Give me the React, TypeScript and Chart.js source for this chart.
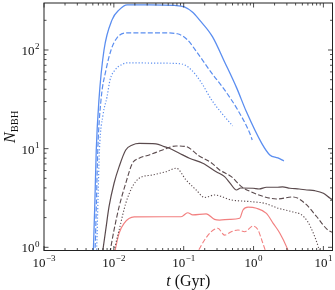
import React, { useEffect, useRef } from "react";
import { Chart, registerables } from "chart.js";
Chart.register(...registerables);

// ---- data (t in Gyr, N_BBH) ----
const blueSolidT = [0.00499, 0.00511, 0.00536, 0.0056, 0.00612, 0.00723, 0.00942, 0.0119, 0.0155, 0.0321, 0.0734, 0.102, 0.133, 0.168, 0.259, 0.385, 0.573, 0.791, 1.31, 1.71, 2.23, 2.72];
const blueSolidN = [0.71, 1.0, 3.02, 9.7, 31.2, 100, 202, 255, 287, 287, 283, 274, 243, 202, 136, 75.7, 41.3, 23.6, 11.3, 8.63, 8.05, 7.5];

const blueDashedT = [0.00522, 0.0054, 0.00564, 0.00589, 0.00655, 0.00772, 0.00912, 0.0111, 0.0155, 0.0527, 0.0811, 0.113, 0.157, 0.2505, 0.385, 0.593, 0.881, 0.957];
const blueDashedN = [0.71, 1.0, 3.02, 9.7, 31.2, 62.8, 100, 133, 149, 149, 146, 127, 93.4, 58.6, 39.4, 24.7, 14.4, 12.25];

const blueDottedT = [0.00551, 0.00568, 0.00593, 0.00622, 0.007, 0.00798, 0.00882, 0.0104, 0.0127, 0.0155, 0.0527, 0.0927, 0.129, 0.18, 0.2505, 0.348, 0.502];
const blueDottedN = [0.71, 1.0, 3.02, 9.7, 22, 33.4, 49.8, 62.8, 70.6, 74.0, 73.5, 72.3, 62.8, 46.4, 31.2, 23.0, 17.0];

const graySolidT = [0.00665, 0.00765, 0.00853, 0.01007, 0.0119, 0.0148, 0.01845, 0.023, 0.0401, 0.0527, 0.0622, 0.0867, 0.121, 0.1875, 0.292, 0.385, 0.47, 0.568, 0.655, 0.984, 1.2, 1.53, 2.13, 2.6, 3.32, 4.5, 5.77, 7.5, 10.0, 12.5, 13.8];
const graySolidN = [0.743, 1.5, 2.58, 4.46, 6.57, 9.7, 10.9, 11.3, 11.2, 10.5, 10.1, 8.98, 7.99, 7.11, 5.84, 5.2, 4.385, 3.81, 3.99, 3.97, 3.9, 4.06, 4.06, 4.1, 3.97, 3.9, 3.81, 3.75, 3.53, 3.14, 3.02];

const grayDashedT = [0.00839, 0.01007, 0.0119, 0.0148, 0.01845, 0.023, 0.0321, 0.0499, 0.0777, 0.108, 0.1627, 0.2505, 0.3265, 0.481, 0.67, 0.933, 1.45, 2.13, 3.7, 5.45, 8.04, 11.2, 13.8];
const grayDashedN = [0.743, 1.5, 2.58, 4.46, 7.11, 7.99, 8.63, 9.7, 10.65, 10.5, 8.53, 7.16, 6.08, 5.2, 4.12, 3.64, 3.24, 3.09, 3.24, 2.79, 2.04, 1.53, 1.4];

const grayDottedT = [0.00935, 0.0119, 0.0148, 0.01845, 0.023, 0.0358, 0.0558, 0.0785, 0.108, 0.151, 0.199, 0.2766, 0.481, 0.933, 1.45, 2.25, 3.51, 4.89, 5.93, 7.18, 8.48, 9.12];
const grayDottedN = [0.743, 1.5, 2.79, 4.12, 5.01, 5.41, 5.84, 6.33, 4.82, 3.81, 3.2, 3.39, 3.02, 2.9, 2.79, 2.49, 2.3, 2.13, 1.83, 1.39, 1.0, 0.817];

const pinkSolidT = [0.00974, 0.0119, 0.014, 0.01953, 0.0527, 0.0918, 0.114, 0.1347, 0.21, 0.2766, 0.3265, 0.455, 0.633, 0.706, 0.834, 1.1, 1.53, 1.91, 2.38, 2.97, 3.32];
const pinkSolidN = [0.743, 1.39, 1.75, 2.03, 2.04, 2.04, 2.24, 2.13, 2.18, 1.92, 1.89, 1.92, 1.97, 2.39, 2.55, 2.49, 2.21, 1.75, 1.39, 1.01, 0.817];

const pinkDashedT = [0.147, 0.199, 0.248, 0.308, 0.385, 0.481, 0.599, 0.746, 0.984, 1.16, 1.31, 1.5];
const pinkDashedN = [0.817, 1.186, 1.44, 1.56, 1.33, 1.44, 1.5, 1.44, 1.64, 1.5, 1.186, 0.896];

// ---- axes ----
const xMin = 1e-3;
const xMax = 13.5;
const yMin = 0.928;
const yMax = 299.5;
const xMajorTicks = [1e-3, 1e-2, 1e-1, 1, 10];
const xMajorExp = ["\u22123", "\u22122", "\u22121", "0", "1"];
const yMajorTicks = [1, 10, 100];
const yMajorExp = ["0", "1", "2"];
const minorMultipliers = [2, 3, 4, 5, 6, 7, 8, 9];
const decades = [1e-3, 1e-2, 1e-1, 1, 10, 100];

const BLUE = "#5b8ef0";
const GRAY = "#5a4a4d";
const PINK = "#f28080";
const SERIF = '"Liberation Serif", "Times New Roman", serif';

const mk = (t: number[], n: number[], color: string, dash: number[], w: number) => ({
  data: t.map((v, i) => ({ x: v, y: n[i] })),
  borderColor: color,
  borderWidth: w,
  borderDash: dash,
  pointRadius: 0,
  fill: false,
  cubicInterpolationMode: "monotone" as const,
});

const axesPlugin = {
  id: "mplAxes",
  afterDatasetsDraw(chart: any) {
    const { ctx, chartArea: a, scales } = chart;
    const xs = scales.x;
    const ys = scales.y;
    ctx.save();
    ctx.strokeStyle = "#222";
    ctx.lineWidth = 0.8;
    const line = (x1: number, y1: number, x2: number, y2: number) => {
      ctx.beginPath();
      ctx.moveTo(x1, y1);
      ctx.lineTo(x2, y2);
      ctx.stroke();
    };
    const xt: [number, boolean][] = [];
    const yt: [number, boolean][] = [];
    decades.forEach((d) => {
      xt.push([d, true]);
      yt.push([d, true]);
      minorMultipliers.forEach((m) => {
        xt.push([d * m, false]);
        yt.push([d * m, false]);
      });
    });
    xt.forEach(([v, major]) => {
      if (v < xMin * 0.999 || v > xMax) return;
      const px = xs.getPixelForValue(v);
      const len = major ? 4.5 : 2.5;
      line(px, a.bottom, px, a.bottom - len);
      line(px, a.top, px, a.top + len);
    });
    yt.forEach(([v, major]) => {
      if (v < yMin || v > yMax) return;
      const py = ys.getPixelForValue(v);
      const len = major ? 4.5 : 2.5;
      line(a.left, py, a.left + len, py);
      line(a.right, py, a.right - len, py);
    });
    ctx.lineWidth = 1;
    ctx.strokeRect(a.left, a.top, a.right - a.left, a.bottom - a.top);

    // tick labels
    ctx.fillStyle = "#111";
    ctx.textBaseline = "alphabetic";
    ctx.textAlign = "left";
    const baseFont = `13px ${SERIF}`;
    const supFont = `9px ${SERIF}`;
    const pow = (exp: string, x: number, baseline: number, align: "center" | "right") => {
      ctx.font = baseFont;
      const w1 = ctx.measureText("10").width;
      ctx.font = supFont;
      const w2 = ctx.measureText(exp).width;
      const total = w1 + 0.5 + w2;
      const x0 = align === "center" ? x - total / 2 : x - total;
      ctx.font = baseFont;
      ctx.fillText("10", x0, baseline);
      ctx.font = supFont;
      ctx.fillText(exp, x0 + w1 + 0.5, baseline - 5.5);
    };
    xMajorTicks.forEach((v, i) => {
      pow(xMajorExp[i], xs.getPixelForValue(v), 266.5, "center");
    });
    yMajorTicks.forEach((v, i) => {
      pow(yMajorExp[i], a.left - 4.5, ys.getPixelForValue(v) + 5, "right");
    });

    // x title
    const tFont = `italic 16px ${SERIF}`;
    const rFont = `16px ${SERIF}`;
    ctx.font = tFont;
    const wt = ctx.measureText("t").width;
    ctx.font = rFont;
    const wr = ctx.measureText(" (Gyr)").width;
    const cx = (a.left + a.right) / 2;
    const x0 = cx - (wt + wr) / 2;
    ctx.font = tFont;
    ctx.fillText("t", x0, 286);
    ctx.font = rFont;
    ctx.fillText(" (Gyr)", x0 + wt, 286);

    // y title
    ctx.save();
    const cy = (a.top + a.bottom) / 2;
    ctx.translate(15, cy);
    ctx.rotate(-Math.PI / 2);
    const nFont = `italic 16px ${SERIF}`;
    const sFont = `10.5px ${SERIF}`;
    ctx.font = nFont;
    const wn = ctx.measureText("N").width;
    ctx.font = sFont;
    const ws = ctx.measureText("BBH").width;
    const s0 = -(wn + ws) / 2;
    ctx.font = nFont;
    ctx.fillText("N", s0, 0);
    ctx.font = sFont;
    ctx.fillText("BBH", s0 + wn, 3);
    ctx.restore();

    ctx.restore();
  },
};

export default function App() {
  const ref = useRef<HTMLCanvasElement | null>(null);
  useEffect(() => {
    document.body.style.margin = "0";
    const canvas = ref.current;
    if (!canvas) return;
    const chart = new Chart(canvas, {
      type: "line",
      data: {
        datasets: [
          mk(blueSolidT, blueSolidN, BLUE, [], 1.3),
          mk(blueDashedT, blueDashedN, BLUE, [5, 2.2], 1.2),
          mk(blueDottedT, blueDottedN, BLUE, [1.2, 1.9], 1.2),
          mk(graySolidT, graySolidN, GRAY, [], 1.2),
          mk(grayDashedT, grayDashedN, GRAY, [5, 2.2], 1.1),
          mk(grayDottedT, grayDottedN, GRAY, [1.2, 1.9], 1.1),
          mk(pinkSolidT, pinkSolidN, PINK, [], 1.2),
          mk(pinkDashedT, pinkDashedN, PINK, [5, 2.2], 1.1),
        ] as any,
      },
      options: {
        animation: false,
        responsive: false,
        maintainAspectRatio: false,
        events: [],
        layout: { padding: { left: 44, right: 2.5, top: 3, bottom: 39.5 } },
        plugins: { legend: { display: false }, tooltip: { enabled: false } },
        scales: {
          x: { type: "logarithmic", min: xMin, max: xMax, display: false },
          y: { type: "logarithmic", min: yMin, max: yMax, display: false },
        },
      },
      plugins: [axesPlugin],
    });
    return () => chart.destroy();
  }, []);
  return (
    <div style={{ width: 335, height: 290 }}>
      <canvas ref={ref} width={335} height={290} style={{ width: 335, height: 290, display: "block" }} />
    </div>
  );
}
